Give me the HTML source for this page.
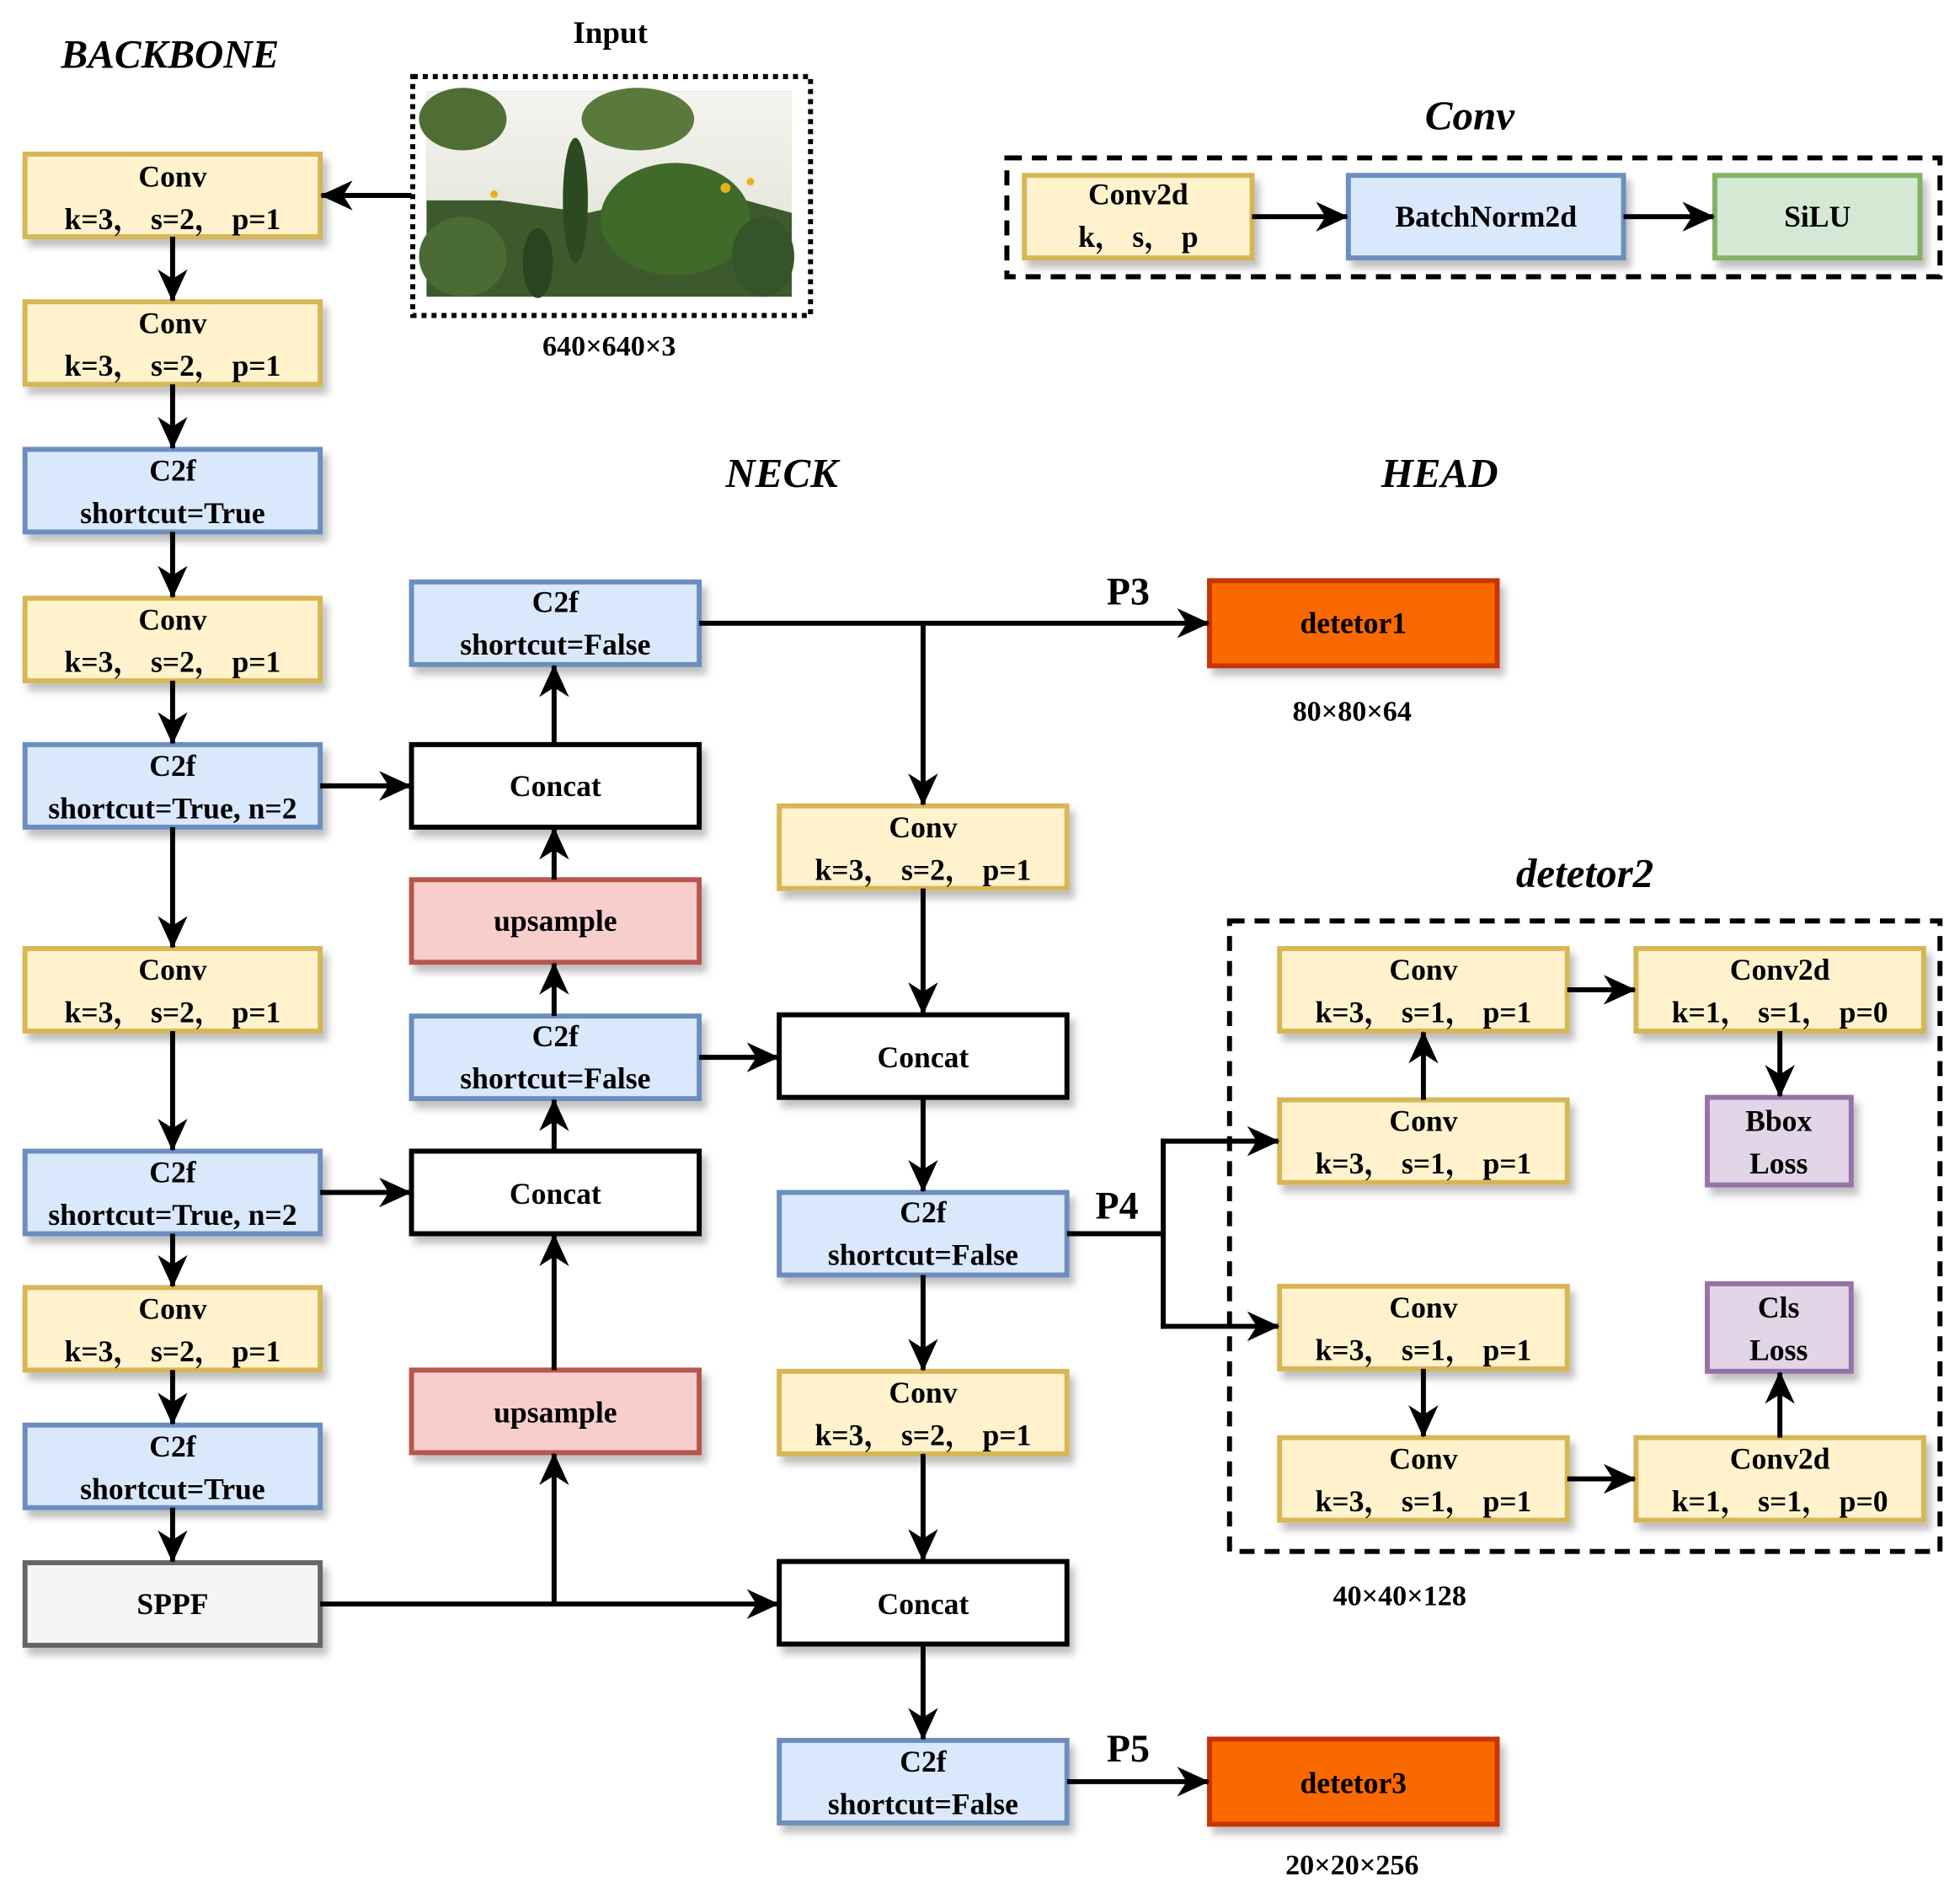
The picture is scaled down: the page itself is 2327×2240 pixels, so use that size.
<!DOCTYPE html>
<html><head><meta charset="utf-8"><style>
html,body{margin:0;padding:0;background:#fff;}
svg{display:block;}
text{font-family:"Liberation Serif","Noto Serif CJK SC",serif;font-weight:bold;fill:#000;}
</style></head><body>
<svg width="2327" height="2240" viewBox="0 0 1567 1508" xmlns="http://www.w3.org/2000/svg">
<defs>
<marker id="a" viewBox="0 0 24 24" refX="23" refY="12" markerWidth="26" markerHeight="26" markerUnits="userSpaceOnUse" orient="auto">
<path d="M0,1 L24,12 L0,23 L7,12 Z" fill="#000"/></marker>
<filter id="s" x="-10%" y="-20%" width="130%" height="160%"><feDropShadow dx="4" dy="6" stdDeviation="3" flood-color="#000" flood-opacity="0.25"/></filter>
<linearGradient id="sky" x1="0" y1="0" x2="0" y2="1"><stop offset="0" stop-color="#f4f4ef"/><stop offset="1" stop-color="#e6e8de"/></linearGradient>
</defs>

<text x="136" y="54" font-size="32" font-style="italic" text-anchor="middle">BACKBONE</text>
<text x="488" y="34" font-size="25" text-anchor="middle">Input</text>
<text x="487" y="284" font-size="23" text-anchor="middle">640×640×3</text>
<text x="625" y="389" font-size="33" font-style="italic" text-anchor="middle">NECK</text>
<text x="1151" y="389" font-size="33" font-style="italic" text-anchor="middle">HEAD</text>
<text x="1175" y="103" font-size="33" font-style="italic" text-anchor="middle">Conv</text>
<text x="1267" y="709" font-size="33" font-style="italic" text-anchor="middle">detetor2</text>
<text x="1081" y="576" font-size="23" text-anchor="middle">80×80×64</text>
<text x="1119" y="1283" font-size="23" text-anchor="middle">40×40×128</text>
<text x="1081" y="1498" font-size="23" text-anchor="middle">20×20×256</text>
<text x="902" y="483" font-size="31" text-anchor="middle">P3</text>
<text x="893" y="974" font-size="31" text-anchor="middle">P4</text>
<text x="902" y="1408" font-size="31" text-anchor="middle">P5</text>

<rect x="330" y="61" width="318" height="191" fill="none" stroke="#000" stroke-width="4" stroke-dasharray="4,4"/>
<g>
<rect x="341" y="73" width="292" height="164" fill="#3d5a2c"/>
<path d="M341,73 L633,73 L633,170 L560,150 L470,170 L400,160 L341,160 Z" fill="url(#sky)"/>
<ellipse cx="370" cy="95" rx="35" ry="25" fill="#4f6e36"/>
<ellipse cx="510" cy="95" rx="45" ry="25" fill="#5a7a3c"/>
<ellipse cx="540" cy="175" rx="60" ry="45" fill="#3f6a2a"/>
<ellipse cx="370" cy="205" rx="35" ry="32" fill="#4a6b33"/>
<ellipse cx="610" cy="205" rx="25" ry="32" fill="#36542a"/>
<ellipse cx="460" cy="160" rx="10" ry="50" fill="#2c4a22"/>
<ellipse cx="430" cy="210" rx="12" ry="28" fill="#2a4420"/>
<circle cx="580" cy="150" r="4" fill="#e8b020"/><circle cx="600" cy="145" r="3" fill="#e8b020"/><circle cx="395" cy="155" r="3" fill="#e8b020"/>
</g>

<rect x="805" y="126" width="746" height="95" fill="none" stroke="#000" stroke-width="4" stroke-dasharray="12,8"/>

<g filter="url(#s)" stroke-width="4">
<rect x="20" y="123" width="236" height="66" fill="#fff2cc" stroke="#d6b656"/>
<rect x="20" y="241" width="236" height="66" fill="#fff2cc" stroke="#d6b656"/>
<rect x="20" y="359" width="236" height="66" fill="#dae8fc" stroke="#6c8ebf"/>
<rect x="20" y="478" width="236" height="66" fill="#fff2cc" stroke="#d6b656"/>
<rect x="20" y="595" width="236" height="66" fill="#dae8fc" stroke="#6c8ebf"/>
<rect x="20" y="758" width="236" height="66" fill="#fff2cc" stroke="#d6b656"/>
<rect x="20" y="920" width="236" height="66" fill="#dae8fc" stroke="#6c8ebf"/>
<rect x="20" y="1029" width="236" height="66" fill="#fff2cc" stroke="#d6b656"/>
<rect x="20" y="1139" width="236" height="66" fill="#dae8fc" stroke="#6c8ebf"/>
<rect x="20" y="1249" width="236" height="66" fill="#f5f5f5" stroke="#666666"/>
<rect x="329" y="465" width="230" height="66" fill="#dae8fc" stroke="#6c8ebf"/>
<rect x="329" y="595" width="230" height="66" fill="#fff" stroke="#000"/>
<rect x="329" y="703" width="230" height="66" fill="#f8cecc" stroke="#b85450"/>
<rect x="329" y="812" width="230" height="66" fill="#dae8fc" stroke="#6c8ebf"/>
<rect x="329" y="920" width="230" height="66" fill="#fff" stroke="#000"/>
<rect x="329" y="1095" width="230" height="66" fill="#f8cecc" stroke="#b85450"/>
<rect x="623" y="644" width="230" height="66" fill="#fff2cc" stroke="#d6b656"/>
<rect x="623" y="811" width="230" height="66" fill="#fff" stroke="#000"/>
<rect x="623" y="953" width="230" height="66" fill="#dae8fc" stroke="#6c8ebf"/>
<rect x="623" y="1096" width="230" height="66" fill="#fff2cc" stroke="#d6b656"/>
<rect x="623" y="1248" width="230" height="66" fill="#fff" stroke="#000"/>
<rect x="623" y="1391" width="230" height="66" fill="#dae8fc" stroke="#6c8ebf"/>
<rect x="967" y="464" width="230" height="68" fill="#fa6800" stroke="#c73500"/>
<rect x="967" y="1390" width="230" height="68" fill="#fa6800" stroke="#c73500"/>
<rect x="1023" y="758" width="230" height="66" fill="#fff2cc" stroke="#d6b656"/>
<rect x="1308" y="758" width="230" height="66" fill="#fff2cc" stroke="#d6b656"/>
<rect x="1023" y="879" width="230" height="66" fill="#fff2cc" stroke="#d6b656"/>
<rect x="1365" y="877" width="115" height="70" fill="#e1d5e7" stroke="#9673a6"/>
<rect x="1023" y="1028" width="230" height="66" fill="#fff2cc" stroke="#d6b656"/>
<rect x="1365" y="1026" width="115" height="70" fill="#e1d5e7" stroke="#9673a6"/>
<rect x="1023" y="1149" width="230" height="66" fill="#fff2cc" stroke="#d6b656"/>
<rect x="1308" y="1149" width="230" height="66" fill="#fff2cc" stroke="#d6b656"/>
<rect x="819" y="140" width="182" height="66" fill="#fff2cc" stroke="#d6b656"/>
<rect x="1078" y="140" width="220" height="66" fill="#dae8fc" stroke="#6c8ebf"/>
<rect x="1371" y="140" width="164" height="66" fill="#d5e8d4" stroke="#82b366"/>
</g>

<rect x="983" y="736" width="568" height="504" fill="none" stroke="#000" stroke-width="4" stroke-dasharray="12,8"/>

<g stroke="#000" stroke-width="4" fill="none">
<line x1="329" y1="156" x2="257" y2="156" marker-end="url(#a)"/>
<line x1="138" y1="189" x2="138" y2="240" marker-end="url(#a)"/>
<line x1="138" y1="307" x2="138" y2="358" marker-end="url(#a)"/>
<line x1="138" y1="425" x2="138" y2="477" marker-end="url(#a)"/>
<line x1="138" y1="544" x2="138" y2="594" marker-end="url(#a)"/>
<line x1="138" y1="661" x2="138" y2="757" marker-end="url(#a)"/>
<line x1="138" y1="824" x2="138" y2="919" marker-end="url(#a)"/>
<line x1="138" y1="986" x2="138" y2="1028" marker-end="url(#a)"/>
<line x1="138" y1="1095" x2="138" y2="1138" marker-end="url(#a)"/>
<line x1="138" y1="1205" x2="138" y2="1248" marker-end="url(#a)"/>
<line x1="256" y1="628" x2="328" y2="628" marker-end="url(#a)"/>
<line x1="256" y1="953" x2="328" y2="953" marker-end="url(#a)"/>
<line x1="256" y1="1282" x2="622" y2="1282" marker-end="url(#a)"/>
<line x1="443" y1="1282" x2="443" y2="1162" marker-end="url(#a)"/>
<line x1="443" y1="1095" x2="443" y2="987" marker-end="url(#a)"/>
<line x1="443" y1="920" x2="443" y2="879" marker-end="url(#a)"/>
<line x1="443" y1="812" x2="443" y2="770" marker-end="url(#a)"/>
<line x1="443" y1="703" x2="443" y2="662" marker-end="url(#a)"/>
<line x1="443" y1="595" x2="443" y2="532" marker-end="url(#a)"/>
<line x1="559" y1="845" x2="622" y2="845" marker-end="url(#a)"/>
<line x1="559" y1="498" x2="966" y2="498" marker-end="url(#a)"/>
<line x1="738" y1="498" x2="738" y2="643" marker-end="url(#a)"/>
<line x1="738" y1="710" x2="738" y2="810" marker-end="url(#a)"/>
<line x1="738" y1="877" x2="738" y2="952" marker-end="url(#a)"/>
<line x1="738" y1="1019" x2="738" y2="1095" marker-end="url(#a)"/>
<line x1="738" y1="1162" x2="738" y2="1247" marker-end="url(#a)"/>
<line x1="738" y1="1314" x2="738" y2="1390" marker-end="url(#a)"/>
<line x1="853" y1="1424" x2="966" y2="1424" marker-end="url(#a)"/>
<polyline points="853,986 930,986"/>
<line x1="930" y1="910" x2="930" y2="1062"/>
<line x1="928" y1="912" x2="1022" y2="912" marker-end="url(#a)"/>
<line x1="928" y1="1060" x2="1022" y2="1060" marker-end="url(#a)"/>
<line x1="1138" y1="879" x2="1138" y2="825" marker-end="url(#a)"/>
<line x1="1253" y1="791" x2="1307" y2="791" marker-end="url(#a)"/>
<line x1="1423" y1="824" x2="1423" y2="876" marker-end="url(#a)"/>
<line x1="1138" y1="1094" x2="1138" y2="1148" marker-end="url(#a)"/>
<line x1="1253" y1="1182" x2="1307" y2="1182" marker-end="url(#a)"/>
<line x1="1423" y1="1149" x2="1423" y2="1097" marker-end="url(#a)"/>
<line x1="1001" y1="173" x2="1077" y2="173" marker-end="url(#a)"/>
<line x1="1298" y1="173" x2="1370" y2="173" marker-end="url(#a)"/>
</g>

<g font-size="24" text-anchor="middle">
<text x="138" y="149">Conv</text><text x="138" y="183">k=3， s=2， p=1</text>
<text x="138" y="266">Conv</text><text x="138" y="300">k=3， s=2， p=1</text>
<text x="138" y="384">C2f</text><text x="138" y="418">shortcut=True</text>
<text x="138" y="503">Conv</text><text x="138" y="537">k=3， s=2， p=1</text>
<text x="138" y="620">C2f</text><text x="138" y="654">shortcut=True, n=2</text>
<text x="138" y="783">Conv</text><text x="138" y="817">k=3， s=2， p=1</text>
<text x="138" y="945">C2f</text><text x="138" y="979">shortcut=True, n=2</text>
<text x="138" y="1054">Conv</text><text x="138" y="1088">k=3， s=2， p=1</text>
<text x="138" y="1164">C2f</text><text x="138" y="1198">shortcut=True</text>
<text x="138" y="1290" fill="#333">SPPF</text>

<text x="444" y="489">C2f</text><text x="444" y="523">shortcut=False</text>
<text x="444" y="636">Concat</text>
<text x="444" y="744">upsample</text>
<text x="444" y="836">C2f</text><text x="444" y="870">shortcut=False</text>
<text x="444" y="962">Concat</text>
<text x="444" y="1137">upsample</text>

<text x="738" y="669">Conv</text><text x="738" y="703">k=3， s=2， p=1</text>
<text x="738" y="853">Concat</text>
<text x="738" y="977">C2f</text><text x="738" y="1011">shortcut=False</text>
<text x="738" y="1121">Conv</text><text x="738" y="1155">k=3， s=2， p=1</text>
<text x="738" y="1290">Concat</text>
<text x="738" y="1416">C2f</text><text x="738" y="1450">shortcut=False</text>

<text x="1082" y="506">detetor1</text>
<text x="1082" y="1433">detetor3</text>

<text x="1138" y="783">Conv</text><text x="1138" y="817">k=3， s=1， p=1</text>
<text x="1423" y="783">Conv2d</text><text x="1423" y="817">k=1， s=1， p=0</text>
<text x="1138" y="904">Conv</text><text x="1138" y="938">k=3， s=1， p=1</text>
<text x="1422" y="904">Bbox</text><text x="1422" y="938">Loss</text>
<text x="1138" y="1053">Conv</text><text x="1138" y="1087">k=3， s=1， p=1</text>
<text x="1422" y="1053">Cls</text><text x="1422" y="1087">Loss</text>
<text x="1138" y="1174">Conv</text><text x="1138" y="1208">k=3， s=1， p=1</text>
<text x="1423" y="1174">Conv2d</text><text x="1423" y="1208">k=1， s=1， p=0</text>

<text x="910" y="163">Conv2d</text><text x="910" y="197">k， s， p</text>
<text x="1188" y="181">BatchNorm2d</text>
<text x="1453" y="181">SiLU</text>
</g>
</svg>
</body></html>
